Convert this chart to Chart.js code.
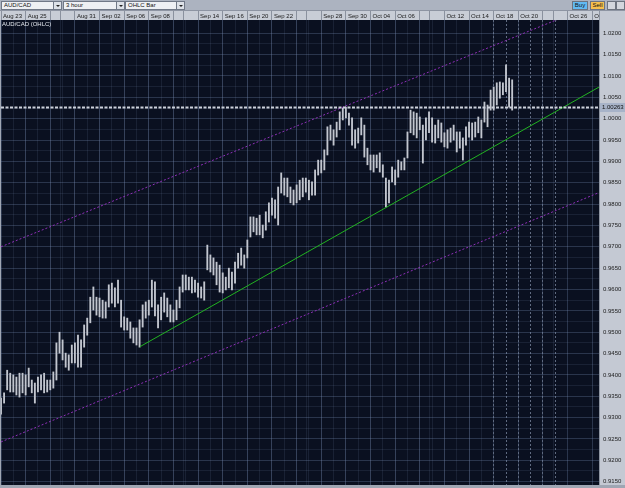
<!DOCTYPE html>
<html><head><meta charset="utf-8">
<script src="https://cdn.jsdelivr.net/npm/chart.js@4.4.1/dist/chart.umd.min.js"></script>
<style>
html,body{margin:0;padding:0;background:#a4abb8;overflow:hidden}
#wrap{position:relative;width:625px;height:488px;font-family:"Liberation Sans",Arial,sans-serif}
#c{position:absolute;left:0;top:0}
.el{position:absolute;box-sizing:border-box;font-size:6px;line-height:7px;white-space:nowrap}
.tb{left:0;top:0;width:625px;height:11px;background:#acb3c0;border-bottom:1px solid #8d94a2}
.dd{top:1px;height:9px;background:#eef0f4;border:1px solid #707887;color:#111;padding-left:2px}
.ar{top:1px;height:9px;width:9px;background:#dde1e8;border:1px solid #707887}
.ar:after{content:"";position:absolute;left:2px;top:3px;border-left:2px solid transparent;border-right:2px solid transparent;border-top:2px solid #222}
.btn{top:1px;height:9px;border:1px solid #6d7480;color:#111;text-align:center}
.lbl{left:2px;top:21px;color:#e4e8ee}
</style></head>
<body>
<div id="wrap">
<canvas id="c" width="625" height="488"></canvas>
<div class="el tb"></div>
<div class="el dd" style="left:1px;width:53px">AUD/CAD</div>
<div class="el ar" style="left:53px"></div>
<div class="el dd" style="left:63px;width:54px">3 hour</div>
<div class="el ar" style="left:116px"></div>
<div class="el dd" style="left:125px;width:52px">OHLC Bar</div>
<div class="el ar" style="left:176px"></div>
<div class="el btn" style="left:572px;width:16px;background:#62baf3">Buy</div>
<div class="el btn" style="left:590px;width:15px;background:#f6c04e">Sell</div>
<div class="el btn" style="left:607px;width:9px;background:#d3d7de"></div>
<div class="el btn" style="left:616px;width:9px;background:#d3d7de"></div>
<div class="el lbl">AUD/CAD (OHLC)</div>
</div>
<script>
// ---- data (AUD/CAD, 6-hour slots, high / low) ----
const barHigh = [0.9346,0.9358,0.9411,0.9404,0.9400,0.9395,0.9404,0.9404,0.9400,0.9416,0.9388,0.9381,0.9395,0.9400,0.9404,0.9388,0.9388,0.9407,0.9475,0.9500,
0.9482,0.9451,0.9447,0.9470,0.9475,0.9493,0.9482,0.9517,0.9533,0.9582,0.9606,0.9582,0.9580,0.9575,0.9571,0.9611,0.9615,0.9604,0.9622,0.9575,
0.9536,0.9533,0.9524,0.9510,0.9510,0.9529,0.9564,0.9571,0.9575,0.9622,0.9618,0.9564,0.9582,0.9592,0.9580,0.9564,0.9552,0.9575,0.9606,0.9634,
0.9634,0.9629,0.9629,0.9622,0.9615,0.9606,0.9618,0.9704,0.9681,0.9674,0.9664,0.9657,0.9639,0.9629,0.9650,0.9641,0.9664,0.9685,0.9697,0.9681,
0.9716,0.9770,0.9770,0.9767,0.9774,0.9751,0.9782,0.9803,0.9814,0.9810,0.9840,0.9873,0.9861,0.9861,0.9840,0.9833,0.9845,0.9856,0.9861,0.9861,
0.9856,0.9852,0.9880,0.9903,0.9903,0.9927,0.9981,0.9985,0.9974,0.9992,1.0016,1.0025,1.0027,1.0013,1.0002,0.9974,0.9978,1.0002,0.9985,0.9931,
0.9915,0.9915,0.9915,0.9920,0.9892,0.9861,0.9856,0.9887,0.9880,0.9903,0.9899,0.9908,0.9969,1.0020,1.0016,1.0013,1.0004,0.9985,1.0002,1.0016,
1.0002,0.9985,0.9997,0.9990,0.9967,0.9974,0.9978,0.9985,0.9969,0.9969,0.9955,0.9981,0.9992,0.9990,0.9992,1.0004,0.9997,1.0039,1.0032,1.0067,
1.0074,1.0084,1.0086,1.0084,1.0126,1.0095,1.0091];
const barLow = [0.9308,0.9334,0.9365,0.9360,0.9360,0.9353,0.9348,0.9358,0.9353,0.9372,0.9358,0.9334,0.9360,0.9365,0.9358,0.9360,0.9365,0.9369,0.9388,0.9451,
0.9435,0.9418,0.9411,0.9428,0.9428,0.9418,0.9418,0.9465,0.9493,0.9522,0.9552,0.9540,0.9536,0.9533,0.9533,0.9559,0.9568,0.9559,0.9568,0.9512,
0.9505,0.9505,0.9486,0.9475,0.9470,0.9465,0.9512,0.9533,0.9540,0.9559,0.9538,0.9510,0.9529,0.9547,0.9536,0.9524,0.9524,0.9529,0.9557,0.9594,
0.9599,0.9599,0.9592,0.9594,0.9582,0.9580,0.9575,0.9646,0.9641,0.9634,0.9611,0.9594,0.9592,0.9599,0.9604,0.9599,0.9615,0.9650,0.9657,0.9650,
0.9674,0.9723,0.9735,0.9728,0.9728,0.9721,0.9739,0.9758,0.9774,0.9767,0.9751,0.9826,0.9821,0.9817,0.9803,0.9798,0.9803,0.9810,0.9817,0.9828,
0.9810,0.9821,0.9821,0.9868,0.9873,0.9880,0.9915,0.9950,0.9938,0.9957,0.9974,0.9997,1.0002,0.9985,0.9938,0.9931,0.9943,0.9962,0.9910,0.9892,
0.9880,0.9875,0.9885,0.9875,0.9863,0.9793,0.9803,0.9852,0.9845,0.9863,0.9880,0.9880,0.9908,0.9967,0.9962,0.9955,0.9974,0.9896,0.9950,0.9967,
0.9945,0.9943,0.9955,0.9945,0.9934,0.9931,0.9945,0.9950,0.9922,0.9931,0.9903,0.9938,0.9957,0.9950,0.9957,0.9967,0.9955,0.9992,0.9981,1.0020,
1.0020,1.0032,1.0048,1.0056,1.0063,1.0027,1.0020];

const dateTickSlots  = [0,8,16,19.3,24,32,40,48,56,59.3,64,72,80,88,96,99.3,104,112,120,128,136,139.3,144,152,160,168,176,179.3,184,192];
const dateTickLabels = ["Aug 23","Aug 25","","","Aug 31","Sep 02","Sep 06","Sep 08","","","Sep 14","Sep 16","Sep 20","Sep 22","","","Sep 28","Sep 30","Oct 04","Oct 06","","","Oct 12","Oct 14","Oct 18","Oct 20","","","Oct 26","Oct 28"];
const futureDaySlots = [160,164,168,172,176,180];
const priceTicks = [0.915,0.920,0.925,0.930,0.935,0.940,0.945,0.950,0.955,0.960,0.965,0.970,0.975,0.980,0.985,0.990,0.995,1.000,1.005,1.010,1.015,1.020];
const lastPrice = 1.00263;
const supportX = [45.1, 194.2], supportY = [0.9466, 1.0074];
const upperX = [0, 194.2],      upperY = [0.9700, 1.0272];
const lowerX = [0, 194.2],      lowerY = [0.9243, 0.9827];

const X_MAX = 194.2, Y_MIN = 0.91422, Y_MAX = 1.02311;

const pts = (xs, ys) => xs.map((x, i) => ({x, y: ys[i]}));
const bars = barHigh.map((h, i) => ({x: i, y: [barLow[i], h]}));
const minorPrice = [];
for (let i = 0; i < priceTicks.length - 1; i++) minorPrice.push((priceTicks[i] + priceTicks[i+1]) / 2);
const dayLines = [];
for (let s = 4; s < 160; s += 4) dayLines.push(s);

const MAJOR = 'rgba(120,140,180,0.30)', MINOR = 'rgba(120,140,180,0.14)';
Chart.defaults.font.family = "'Liberation Sans', Arial, sans-serif";
Chart.defaults.font.size = 6;

const noPad = s => { s.paddingLeft = 0; s.paddingRight = 0; s.paddingTop = 0; s.paddingBottom = 0; };

const frame = {
  id: 'frame',
  beforeDraw(chart) {
    const {ctx, chartArea: a, width, height} = chart;
    const xs = chart.scales.x;
    ctx.save();
    ctx.fillStyle = '#9fa6b3'; ctx.fillRect(0, 0, width, height);
    ctx.fillStyle = '#c8cdd6'; ctx.fillRect(0, xs.top, a.right, xs.height);
    ctx.fillStyle = '#0a1020'; ctx.fillRect(a.left, a.top, a.right - a.left, a.bottom - a.top);
    ctx.restore();
  },
  afterDatasetsDraw(chart) {
    const {ctx, chartArea: a, width} = chart;
    ctx.save();
    ctx.fillStyle = '#c4c9d3';
    ctx.fillRect(a.right, 11, width - a.right, a.bottom - 11);
    ctx.fillStyle = '#8c93a0';
    ctx.fillRect(a.right, 11, 1, a.bottom - 11);
    ctx.restore();
  },
  afterDraw(chart) {
    const {ctx, chartArea: a, width} = chart;
    const yp = Math.round(chart.scales.y.getPixelForValue(lastPrice));
    ctx.save();
    ctx.fillStyle = '#a7b3c8';
    ctx.fillRect(a.right + 1, yp - 4, width - a.right - 1, 9);
    ctx.fillStyle = '#111';
    ctx.font = "6px 'Liberation Sans', Arial, sans-serif";
    ctx.textBaseline = 'middle';
    ctx.fillText(lastPrice.toFixed(5), a.right + 3, yp + 0.5);
    ctx.restore();
  }
};

new Chart(document.getElementById('c'), {
  data: {
    datasets: [
      {type: 'line', data: pts([0, X_MAX], [lastPrice, lastPrice]), borderColor: '#cdd2db', borderWidth: 2, borderDash: [3, 1.5], pointRadius: 0, order: 1},
      {type: 'line', data: pts(supportX, supportY), borderColor: '#22b322', borderWidth: 1, pointRadius: 0, order: 1},
      {type: 'line', data: pts(upperX, upperY), borderColor: '#8e2fb8', borderWidth: 1, borderDash: [2, 2], pointRadius: 0, order: 1},
      {type: 'line', data: pts(lowerX, lowerY), borderColor: '#8e2fb8', borderWidth: 1, borderDash: [2, 2], pointRadius: 0, order: 1},
      {type: 'bar', data: bars, backgroundColor: '#c2c6cf', borderWidth: 0, barThickness: 1.2, order: 5}
    ]
  },
  options: {
    responsive: false, animation: false, devicePixelRatio: 1,
    layout: {padding: {top: 11, left: 1, right: 0, bottom: 3}},
    plugins: {legend: {display: false}, tooltip: {enabled: false}},
    scales: {
      x: {
        type: 'linear', position: 'top', min: 0, max: X_MAX, offset: false,
        afterBuildTicks: s => { s.ticks = dateTickSlots.map(v => ({value: v})); },
        afterFit: s => { s.height = 9; noPad(s); },
        ticks: {autoSkip: false, maxRotation: 0, minRotation: 0, align: 'start', labelOffset: 2, padding: -9, color: '#1a1a1a',
                callback: (v, i) => dateTickLabels[i]},
        grid: {offset: false, drawTicks: true, tickLength: 9, tickColor: '#8a919e',
               color: c => (c.tick && c.tick.value % 8 === 0) ? MAJOR : MINOR},
        border: {display: false}
      },
      x2: {
        type: 'linear', position: 'top', min: 0, max: X_MAX, offset: false,
        afterBuildTicks: s => { s.ticks = dayLines.map(v => ({value: v})); },
        afterFit: s => { s.height = 0; noPad(s); },
        ticks: {display: false}, grid: {offset: false, drawTicks: false, color: MINOR}, border: {display: false}
      },
      x3: {
        type: 'linear', position: 'top', min: 0, max: X_MAX, offset: false,
        afterBuildTicks: s => { s.ticks = futureDaySlots.map(v => ({value: v})); },
        afterFit: s => { s.height = 0; noPad(s); },
        ticks: {display: false}, grid: {offset: false, drawTicks: false, color: '#5f6a80'}, border: {display: false, dash: [2, 2]}
      },
      y: {
        type: 'linear', position: 'right', min: Y_MIN, max: Y_MAX,
        afterBuildTicks: s => { s.ticks = priceTicks.map(v => ({value: v})); },
        afterFit: s => { s.width = 26; noPad(s); },
        ticks: {z: 1, padding: 4, color: '#1a1a1a', callback: v => v.toFixed(4)},
        grid: {drawTicks: false, color: MAJOR}, border: {display: false}
      },
      y2: {
        type: 'linear', position: 'left', min: Y_MIN, max: Y_MAX,
        afterBuildTicks: s => { s.ticks = minorPrice.map(v => ({value: v})); },
        afterFit: s => { s.width = 0; noPad(s); },
        ticks: {display: false}, grid: {drawTicks: false, color: MINOR}, border: {display: false}
      }
    }
  },
  plugins: [frame]
});
</script>
</body></html>
